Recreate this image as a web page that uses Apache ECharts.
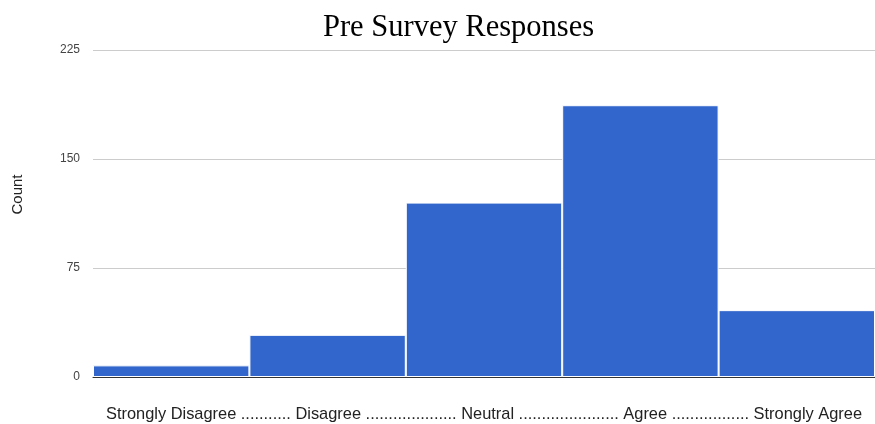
<!DOCTYPE html>
<html><head><meta charset="utf-8">
<script src="https://cdn.jsdelivr.net/npm/echarts@6/dist/echarts.min.js"></script>
<style>html,body{margin:0;padding:0;background:#fff}#c{width:875px;height:424px}</style>
</head><body><div id="c"></div>
<script>
const categories = ["Strongly Disagree", "Disagree", "Neutral", "Agree", "Strongly Agree"];
const counts = [8, 29, 120, 187, 46];
const yTicks = [0, 75, 150, 225];
const xAxisTitle = "Strongly Disagree ........... Disagree .................... Neutral ...................... Agree ................. Strongly Agree";

const chart = echarts.init(document.getElementById('c'), null, {renderer: 'canvas'});
chart.setOption({
  animation: false,
  title: {
    text: "Pre Survey Responses",
    left: 318, top: 7,
    textStyle: {fontFamily: 'Liberation Serif', fontWeight: 'normal', fontSize: 30.5, color: '#000'}
  },
  grid: {left: 93, right: 0, top: 50, bottom: 47, containLabel: false, outerBoundsMode: 'none'},
  xAxis: {
    type: 'category', data: categories,
    name: xAxisTitle, nameLocation: 'middle', nameGap: 29,
    nameTextStyle: {fontFamily: 'Liberation Sans', fontSize: 16.4, color: '#222'},
    axisLabel: {show: false}, axisTick: {show: false},
    axisLine: {lineStyle: {color: '#333', width: 1}}
  },
  yAxis: {
    type: 'value', min: yTicks[0], max: yTicks[yTicks.length - 1], interval: 75,
    name: 'Count', nameLocation: 'middle', nameGap: 68, nameRotate: 90,
    nameTextStyle: {fontFamily: 'Liberation Sans', fontSize: 15, color: '#222', padding: [0, 0, 0, 38]},
    axisLabel: {fontFamily: 'Liberation Sans', fontSize: 12, color: '#444', margin: 13},
    splitLine: {lineStyle: {color: '#ccc'}},
    axisLine: {show: false}, axisTick: {show: false}
  },
  series: [{
    type: 'bar', data: counts, barCategoryGap: '0%', barWidth: '100%',
    itemStyle: {color: '#3366CC', borderColor: '#fff', borderWidth: 1}
  }]
});
</script></body></html>
